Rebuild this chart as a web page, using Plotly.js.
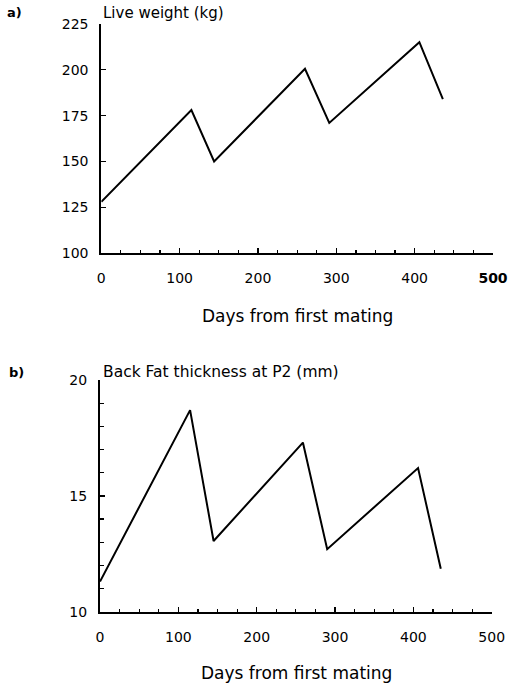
<!DOCTYPE html>
<html>
<head>
<meta charset="utf-8">
<script src="https://cdn.plot.ly/plotly-3.0.1.min.js"></script>
<style>
html,body{margin:0;padding:0;background:#fff;}
#chart{width:508px;height:687px;}
</style>
</head>
<body>
<div id="chart"></div>
<script>
// Panel a) Live weight (kg)
var daysA = [0, 115, 144, 260, 291, 406, 436];
var liveWeight = [128, 178, 150, 200.5, 171, 215, 184];
// Panel b) Back fat thickness at P2 (mm)
var daysB = [0, 115, 145, 259, 290, 406, 435];
var backFat = [11.3, 18.7, 13.05, 17.3, 12.7, 16.2, 11.85];

// Tick labels
var xTickVals = [0, 100, 200, 300, 400, 500];
var xTickTextA = ['0', '100', '200', '300', '400', '<b>500</b>'];
var xTickTextB = ['0', '100', '200', '300', '400', '500'];

var titleA = "Live weight (kg)";
var titleB = "Back Fat thickness at P2 (mm)";
var xTitle = "Days from first mating";

var W = 508, H = 687;
var FONT = "DejaVu Sans, Arial, sans-serif";

var traces = [
  {x: daysA, y: liveWeight, xaxis: 'x', yaxis: 'y', mode: 'lines',
   line: {color: '#000', width: 2}, cliponaxis: false, hoverinfo: 'skip'},
  {x: daysB, y: backFat, xaxis: 'x2', yaxis: 'y2', mode: 'lines',
   line: {color: '#000', width: 2}, cliponaxis: false, hoverinfo: 'skip'}
];

function px(v){ return v / W; }
function py(v){ return 1 - v / H; }

var axBase = {
  showline: true, linecolor: '#000', linewidth: 2, showgrid: false, zeroline: false,
  ticks: 'inside', tickcolor: '#000', tickwidth: 1.5, ticklen: 5,
  tickfont: {family: FONT, size: 14, color: '#000'}
};
function ax(extra){ return Object.assign({}, axBase, extra); }

var layout = {
  width: W, height: H,
  margin: {l: 0, r: 0, t: 0, b: 0},
  paper_bgcolor: '#fff', plot_bgcolor: '#fff',
  showlegend: false,
  xaxis: ax({domain: [px(101.3), px(493)], range: [0, 500], tickmode: 'array',
             tickvals: xTickVals, ticktext: xTickTextA, anchor: 'y',
             ticklabelstandoff: 11,
             minor: {dtick: 25, ticks: 'inside', ticklen: 3, tickcolor: '#000', tickwidth: 1.2}}),
  yaxis: ax({domain: [py(253.3), py(23.8)], range: [100, 225], dtick: 25, anchor: 'x',
             ticklabelstandoff: 8}),
  xaxis2: ax({domain: [px(100), px(491.7)], range: [0, 500], tickmode: 'array',
              tickvals: xTickVals, ticktext: xTickTextB, anchor: 'y2',
              ticklabelstandoff: 11,
              minor: {dtick: 25, ticks: 'inside', ticklen: 3, tickcolor: '#000', tickwidth: 1.2}}),
  yaxis2: ax({domain: [py(611.7), py(380)], range: [10, 20], dtick: 5, anchor: 'x2',
              ticklabelstandoff: 8,
              minor: {dtick: 1, ticks: 'inside', ticklen: 4, tickcolor: '#000', tickwidth: 1.2}}),
  annotations: [
    {text: '<b>a)</b>', x: px(5), y: py(13), xref: 'paper', yref: 'paper', xanchor: 'left', yanchor: 'middle',
     showarrow: false, font: {family: FONT, size: 13, color: '#000'}},
    {text: titleA, x: px(101), y: py(13), xref: 'paper', yref: 'paper', xanchor: 'left', yanchor: 'middle',
     showarrow: false, font: {family: FONT, size: 15, color: '#000'}},
    {text: xTitle, x: px(297), y: py(316), xref: 'paper', yref: 'paper', xanchor: 'center', yanchor: 'middle',
     showarrow: false, font: {family: FONT, size: 17, color: '#000'}},
    {text: '<b>b)</b>', x: px(7), y: py(372), xref: 'paper', yref: 'paper', xanchor: 'left', yanchor: 'middle',
     showarrow: false, font: {family: FONT, size: 13, color: '#000'}},
    {text: titleB, x: px(101), y: py(372), xref: 'paper', yref: 'paper', xanchor: 'left', yanchor: 'middle',
     showarrow: false, font: {family: FONT, size: 15.5, color: '#000'}},
    {text: xTitle, x: px(296), y: py(673), xref: 'paper', yref: 'paper', xanchor: 'center', yanchor: 'middle',
     showarrow: false, font: {family: FONT, size: 17, color: '#000'}}
  ]
};

Plotly.newPlot('chart', traces, layout, {staticPlot: true, displayModeBar: false});
</script>
</body>
</html>
